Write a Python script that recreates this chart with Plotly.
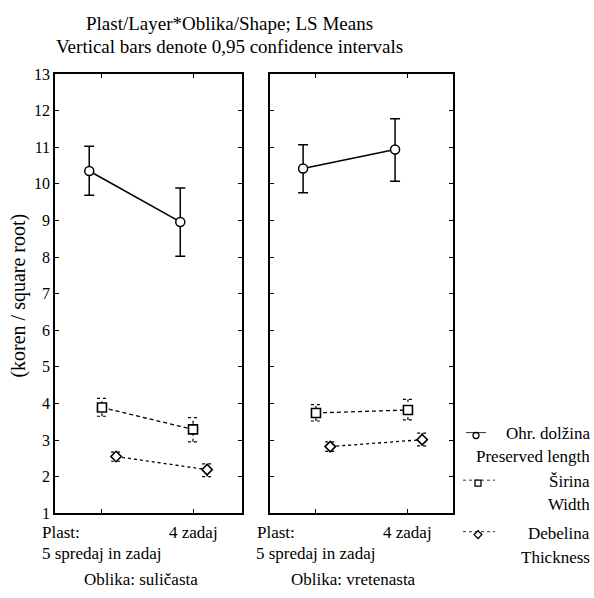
import plotly.graph_objects as go

W, H = 594, 598
FONT = "Liberation Serif"

# ---------------- data ----------------
panels = ["Oblika: suličasta", "Oblika: vretenasta"]
plast_levels = ["5 spredaj in zadaj", "4 zadaj"]
plast_pos = [0, 1]

# Ohr. dolžina / Preserved length
len_mean = [[10.35, 8.96], [10.42, 10.94]]
len_lo = [[9.69, 8.02], [9.76, 10.07]]
len_hi = [[11.03, 9.89], [11.07, 11.78]]
# Širina / Width
wid_mean = [[3.89, 3.29], [3.74, 3.82]]
wid_lo = [[3.65, 2.95], [3.52, 3.55]]
wid_hi = [[4.14, 3.61], [3.97, 4.11]]
# Debelina / Thickness
thk_mean = [[2.55, 2.19], [2.82, 3.01]]
thk_lo = [[2.42, 2.00], [2.69, 2.84]]
thk_hi = [[2.67, 2.35], [2.95, 3.19]]

y_ticks = list(range(1, 14))

# ---------------- layout helpers ----------------
def px(x):
    return x / W

def py(y):
    return 1 - y / H

x_domains = [[px(55), px(242)], [px(270), px(453)]]
x_ranges = [[-0.516, 1.538], [-0.50, 1.49]]
y_domain = [py(520), py(68)]

series = [
    dict(mean=len_mean, lo=len_lo, hi=len_hi, off=-0.14, symbol="circle",
         dash="solid", lw=1.6, msize=9, ebar="solid"),
    dict(mean=wid_mean, lo=wid_lo, hi=wid_hi, off=0.0, symbol="square",
         dash="4px,3px", lw=1.3, msize=9, ebar="dot"),
    dict(mean=thk_mean, lo=thk_lo, hi=thk_hi, off=0.155, symbol="diamond",
         dash="dot", lw=1.3, msize=8, ebar="dot"),
]

fig = go.Figure()
cap = 0.055

for p in range(2):
    xa = "x" if p == 0 else "x2"
    ya = "y" if p == 0 else "y2"
    for s in series:
        xs = [v + s["off"] for v in plast_pos]
        m = s["mean"][p]
        lo = s["lo"][p]
        hi = s["hi"][p]
        if s["ebar"] == "solid":
            fig.add_trace(go.Scatter(
                x=xs, y=m, xaxis=xa, yaxis=ya, mode="lines+markers",
                line=dict(color="black", width=s["lw"], dash=s["dash"]),
                marker=dict(symbol=s["symbol"], size=s["msize"], color="white",
                            line=dict(width=1.5, color="black")),
                error_y=dict(type="data", symmetric=False,
                             array=[h - v for h, v in zip(hi, m)],
                             arrayminus=[v - l for v, l in zip(m, lo)],
                             color="black", thickness=1.5, width=5),
                showlegend=False, hoverinfo="skip"))
        else:
            ex, ey = [], []
            for x0, l, h in zip(xs, lo, hi):
                ex += [x0, x0, None, x0 - cap, x0 + cap, None, x0 - cap, x0 + cap, None]
                ey += [l, h, None, h, h, None, l, l, None]
            fig.add_trace(go.Scatter(
                x=ex, y=ey, xaxis=xa, yaxis=ya, mode="lines",
                line=dict(color="black", width=1.2, dash="dot"),
                showlegend=False, hoverinfo="skip"))
            fig.add_trace(go.Scatter(
                x=xs, y=m, xaxis=xa, yaxis=ya, mode="lines+markers",
                line=dict(color="black", width=s["lw"], dash=s["dash"]),
                marker=dict(symbol=s["symbol"], size=s["msize"],
                            color="white", line=dict(width=1.6, color="black")),
                showlegend=False, hoverinfo="skip"))

axis_common = dict(showline=True, linecolor="black", linewidth=1.5, mirror="ticks",
                   ticks="inside", ticklen=4, tickcolor="black", tickwidth=1,
                   showgrid=False, zeroline=False)

layout = dict(
    width=W, height=H, margin=dict(l=0, r=0, t=0, b=0),
    paper_bgcolor="white", plot_bgcolor="rgba(0,0,0,0)",
    font=dict(family=FONT, color="black", size=17),
    showlegend=False,
)
for p in range(2):
    key = "" if p == 0 else "2"
    layout["xaxis" + key] = dict(domain=x_domains[p], range=x_ranges[p],
                                 tickvals=plast_pos, showticklabels=False,
                                 anchor="y" + key, **axis_common)
    layout["yaxis" + key] = dict(domain=y_domain, range=[1, 13], tickvals=y_ticks,
                                 showticklabels=(p == 0), tickfont=dict(size=16),
                                 anchor="x" + key, **axis_common)

# overlay pixel axis for legend glyphs
layout["xaxis3"] = dict(domain=[0, 1], range=[0, W], visible=False, anchor="y3")
layout["yaxis3"] = dict(domain=[0, 1], range=[H, 0], visible=False, anchor="x3")
fig.update_layout(**layout)

# legend glyphs
leg = [
    dict(y=440, x0=466, x1=486, mx=476, sym="circle", dash="solid", ms=6),
    dict(y=489, x0=463, x1=495, mx=478, sym="square", dash="dot", ms=6),
    dict(y=542, x0=463, x1=495, mx=478, sym="diamond", dash="dot", ms=6),
]
for g in leg:
    fig.add_trace(go.Scatter(x=[g["x0"], g["x1"]], y=[g["y"] - 3, g["y"] - 3],
                             xaxis="x3", yaxis="y3", mode="lines",
                             line=dict(color="black", width=0.8, dash=g["dash"]),
                             showlegend=False, hoverinfo="skip"))
    fig.add_trace(go.Scatter(x=[g["mx"]], y=[g["y"]], xaxis="x3", yaxis="y3",
                             mode="markers",
                             marker=dict(symbol=g["sym"], size=g["ms"], color="white",
                                         line=dict(width=1.3, color="black")),
                             showlegend=False, hoverinfo="skip"))

ann = []
def text(t, x, y, size=17, xanchor="center", **kw):
    ann.append(dict(text=t, x=px(x), y=py(y), xref="paper", yref="paper",
                    showarrow=False, xanchor=xanchor, yanchor="middle",
                    font=dict(family=FONT, size=size, color="black"), **kw))

text("Plast/Layer*Oblika/Shape; LS Means", 229, 16, size=19)
text("Vertical bars denote 0,95 confidence intervals", 229, 40, size=19)
text("(koren / square root)", 19, 296, size=20, textangle=-90)

legend_rows = [("Ohr. dolžina", 438), ("Preserved length", 462), ("Širina", 487),
               ("Width", 511), ("Debelina", 541), ("Thickness", 566)]
for t, y in legend_rows:
    text(t, 592, y, size=17, xanchor="right")

for p in range(2):
    xr = "x" if p == 0 else "x2"
    left = 55 if p == 0 else 270
    center = (x_domains[p][0] + x_domains[p][1]) / 2 * W
    ann.append(dict(text="Plast:", x=px(left - 15), y=py(540), xref="paper", yref="paper",
                    showarrow=False, xanchor="left", yanchor="middle",
                    font=dict(family=FONT, size=17)))
    ann.append(dict(text=plast_levels[1], x=plast_pos[1], y=py(540), xref=xr, yref="paper",
                    showarrow=False, xanchor="center", yanchor="middle",
                    font=dict(family=FONT, size=17)))
    ann.append(dict(text=plast_levels[0], x=plast_pos[0], y=py(561), xref=xr, yref="paper",
                    showarrow=False, xanchor="center", yanchor="middle",
                    font=dict(family=FONT, size=17)))
    ann.append(dict(text=panels[p], x=px(center - 8), y=py(588), xref="paper", yref="paper",
                    showarrow=False, xanchor="center", yanchor="middle",
                    font=dict(family=FONT, size=17)))

fig.update_layout(annotations=ann)

fig.write_html("out.html", config={"displayModeBar": False},
               post_script="document.body.style.margin='0';"
                           "document.body.style.overflow='hidden';")
